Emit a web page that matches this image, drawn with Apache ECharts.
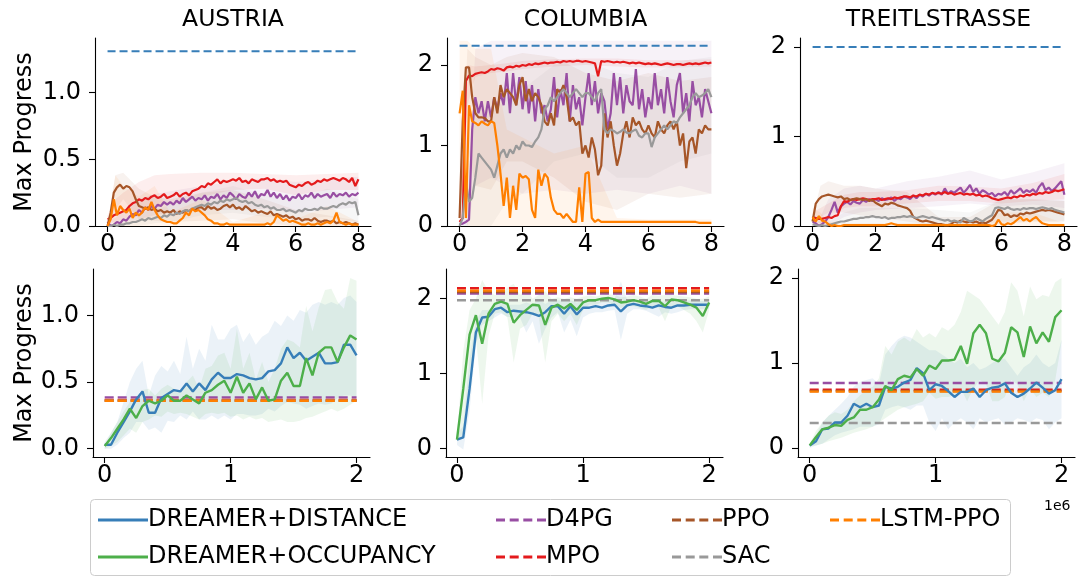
<!DOCTYPE html>
<html>
<head>
<meta charset="utf-8">
<title>Max Progress by track</title>
<script src="https://cdn.jsdelivr.net/npm/echarts@6/dist/echarts.min.js"></script>
<style>
  html, body { margin: 0; padding: 0; background: #fff; }
  #chart { width: 1081px; height: 576px; }
</style>
</head>
<body>
<div id="chart"></div>
<script>
// ---------- data ----------
const trackNames = ['AUSTRIA', 'COLUMBIA', 'TREITLSTRASSE'];
const methodNames = ['DREAMER+DISTANCE', 'DREAMER+OCCUPANCY', 'D4PG', 'MPO', 'PPO', 'SAC', 'LSTM-PPO'];

// model-free training steps (x 1e6), 0..8
const topSteps = [0,0.1,0.2,0.3,0.4,0.5,0.6,0.7,0.8,0.9,1,1.1,1.2,1.3,1.4,1.5,1.6,1.7,1.8,1.9,2,2.1,2.2,2.3,2.4,2.5,2.6,2.7,2.8,2.9,3,3.1,3.2,3.3,3.4,3.5,3.6,3.7,3.8,3.9,4,4.1,4.2,4.3,4.4,4.5,4.6,4.7,4.8,4.9,5,5.1,5.2,5.3,5.4,5.5,5.6,5.7,5.8,5.9,6,6.1,6.2,6.3,6.4,6.5,6.6,6.7,6.8,6.9,7,7.1,7.2,7.3,7.4,7.5,7.6,7.7,7.8,7.9,8];
// spread of the model-free runs is sampled more coarsely
const topBandSteps = [0,0.25,0.5,1,1.5,2,3,4,5,6,7,8];
// dreamer training steps (x 1e6), 0..2
const bottomSteps = [0,0.05,0.1,0.15,0.2,0.25,0.3,0.35,0.4,0.45,0.5,0.55,0.6,0.65,0.7,0.75,0.8,0.85,0.9,0.95,1,1.05,1.1,1.15,1.2,1.25,1.3,1.35,1.4,1.45,1.5,1.55,1.6,1.65,1.7,1.75,1.8,1.85,1.9,1.95,2];

// tick values / labels
const topXTicks = [0, 2, 4, 6, 8];
const bottomXTicks = [0, 1, 2];
const austriaYTicks = [0, 0.5, 1.0];
const austriaYLabels = ['0.0', '0.5', '1.0'];
const wideYTicks = [0, 1, 2];
const wideYLabels = ['0', '1', '2'];

// ---- AUSTRIA, model-free ----
const austriaD4PG = [
0.03,0.00,0.01,0.03,0.02,0.05,0.04,0.07,0.09,0.08,
0.12,0.10,0.14,0.12,0.15,0.13,0.16,0.15,0.18,0.16,
0.18,0.16,0.19,0.17,0.21,0.18,0.20,0.22,0.19,0.21,
0.20,0.23,0.19,0.22,0.21,0.24,0.20,0.23,0.21,0.25,
0.23,0.20,0.24,0.22,0.21,0.25,0.22,0.26,0.21,0.24,
0.23,0.27,0.22,0.25,0.21,0.24,0.20,0.23,0.19,0.22,
0.21,0.24,0.20,0.23,0.22,0.25,0.21,0.24,0.22,0.23,
0.24,0.21,0.25,0.22,0.24,0.23,0.25,0.22,0.24,0.23,
0.25];
const austriaMPO = [
0.05,0.06,0.08,0.09,0.10,0.11,0.12,0.15,0.17,0.18,
0.20,0.19,0.21,0.20,0.22,0.23,0.21,0.22,0.24,0.21,
0.22,0.23,0.25,0.22,0.24,0.25,0.23,0.26,0.27,0.28,
0.30,0.29,0.32,0.31,0.33,0.35,0.32,0.34,0.33,0.34,
0.35,0.34,0.36,0.33,0.34,0.32,0.35,0.34,0.33,0.35,
0.35,0.36,0.34,0.35,0.33,0.34,0.33,0.34,0.31,0.30,
0.29,0.31,0.30,0.32,0.33,0.31,0.32,0.34,0.33,0.35,
0.34,0.35,0.36,0.35,0.34,0.36,0.35,0.33,0.36,0.30,
0.35];
const austriaPPO = [
0.00,0.10,0.25,0.29,0.31,0.28,0.30,0.29,0.26,0.20,
0.15,0.14,0.13,0.14,0.12,0.13,0.11,0.12,0.10,0.11,
0.10,0.12,0.09,0.11,0.10,0.12,0.11,0.13,0.12,0.14,
0.14,0.12,0.15,0.13,0.14,0.12,0.13,0.15,0.16,0.14,
0.16,0.13,0.14,0.12,0.15,0.13,0.11,0.12,0.10,0.11,
0.10,0.09,0.11,0.08,0.09,0.08,0.07,0.08,0.06,0.07,
0.05,0.06,0.04,0.05,0.05,0.04,0.06,0.04,0.03,0.04,
0.04,0.03,0.04,0.02,0.03,0.02,0.03,0.02,0.01,0.02,
0.01];
const austriaSAC = [
0.00,0.00,0.01,0.00,0.01,0.01,0.02,0.02,0.03,0.03,
0.04,0.05,0.04,0.06,0.05,0.06,0.07,0.06,0.08,0.07,
0.09,0.08,0.10,0.09,0.11,0.12,0.11,0.13,0.14,0.15,
0.16,0.15,0.17,0.16,0.18,0.17,0.19,0.18,0.20,0.19,
0.20,0.21,0.19,0.18,0.19,0.17,0.18,0.16,0.15,0.16,
0.14,0.15,0.13,0.14,0.12,0.12,0.13,0.11,0.12,0.11,
0.10,0.12,0.11,0.13,0.12,0.12,0.13,0.12,0.14,0.13,
0.13,0.14,0.15,0.14,0.16,0.17,0.16,0.18,0.17,0.18,
0.08];
const austriaLSTM = [
0.00,0.05,0.20,0.08,0.15,0.12,0.10,0.13,0.06,0.10,
0.08,0.10,0.14,0.12,0.18,0.12,0.08,0.05,0.04,0.03,
0.03,0.02,0.02,0.04,0.06,0.10,0.08,0.13,0.11,0.12,
0.10,0.08,0.05,0.04,0.02,0.02,0.01,0.01,0.02,0.01,
0.01,0.01,0.01,0.01,0.01,0.01,0.01,0.01,0.01,0.01,
0.01,0.02,0.01,0.03,0.08,0.06,0.04,0.05,0.03,0.04,
0.03,0.02,0.01,0.01,0.02,0.01,0.01,0.02,0.01,0.02,
0.03,0.02,0.04,0.10,0.03,0.02,0.01,0.02,0.01,0.01,
0.01];
const austriaBandLo = {
  D4PG: [0,0,0,0.05,0.08,0.10,0.12,0.12,0.13,0.10,0.12,0.14],
  MPO:  [0.02,0.03,0.05,0.10,0.15,0.16,0.22,0.27,0.28,0.23,0.27,0.27],
  PPO:  [0,0.12,0.20,0.05,0.04,0.03,0.04,0.05,0.02,0,0,0],
  SAC:  [0,0,0,0,0.02,0.03,0.08,0.10,0.07,0.05,0.07,0.03],
  LSTM: [0,0,0,0,0,0,0,0,0,0,0,0]
};
const austriaBandHi = {
  D4PG: [0.05,0.06,0.12,0.20,0.24,0.26,0.30,0.33,0.36,0.33,0.35,0.37],
  MPO:  [0.08,0.20,0.25,0.33,0.38,0.39,0.40,0.40,0.39,0.38,0.39,0.40],
  PPO:  [0.02,0.38,0.40,0.28,0.22,0.20,0.25,0.27,0.20,0.12,0.08,0.04],
  SAC:  [0,0.02,0.05,0.10,0.12,0.16,0.25,0.30,0.23,0.20,0.28,0.20],
  LSTM: [0.02,0.38,0.30,0.22,0.30,0.10,0.20,0.03,0.10,0.05,0.15,0.03]
};

// ---- COLUMBIA, model-free ----
const columbiaD4PG = [
0.02,0.03,0.05,0.08,1.20,1.60,1.40,1.55,1.30,1.55,
1.35,1.60,1.45,1.65,1.50,1.90,1.40,1.90,1.50,1.85,
1.45,1.80,1.40,1.75,1.30,1.70,1.40,1.50,1.30,1.45,
1.85,1.35,1.70,1.50,1.90,1.30,1.75,1.45,1.60,1.25,
1.60,1.90,1.50,1.80,1.40,1.65,1.55,1.20,1.40,1.90,
1.50,1.85,1.40,1.75,1.55,1.50,1.95,1.45,1.70,1.35,
1.60,1.45,1.90,1.50,1.70,1.40,1.85,1.55,1.35,1.75,
1.90,1.40,1.65,1.30,1.80,1.50,1.60,1.35,1.70,1.55,
1.40];
const columbiaMPO = [
0.05,0.10,1.80,1.87,1.86,1.89,1.90,1.91,1.90,1.92,
1.95,1.94,1.96,1.95,1.93,1.97,1.98,1.97,1.99,1.98,
2.00,1.99,2.01,2.00,2.02,2.01,2.02,2.03,2.02,2.03,
2.03,2.04,2.03,2.05,2.04,2.05,2.04,2.05,2.05,2.04,
2.05,2.04,2.03,2.02,1.86,2.05,2.04,2.05,2.04,2.03,
2.04,2.03,2.04,2.03,2.02,2.03,2.02,2.03,2.02,2.01,
2.02,2.01,2.02,2.01,2.00,2.01,2.02,2.01,2.00,2.01,
2.01,2.00,2.01,2.02,2.01,2.02,2.01,2.02,2.03,2.02,
2.03];
const columbiaPPO = [
0.10,1.30,1.97,1.97,1.60,1.40,1.35,1.35,1.34,1.30,
1.30,1.60,1.40,1.75,1.60,1.70,1.65,1.60,1.50,1.75,
1.85,1.55,1.70,1.55,1.65,1.60,1.50,1.30,1.25,1.40,
1.25,1.70,1.65,1.75,1.60,1.30,1.35,1.25,1.30,0.90,
1.00,0.85,1.10,0.95,0.63,0.75,1.40,1.10,1.30,1.00,
0.75,0.90,1.15,1.30,1.10,1.35,1.25,1.30,1.20,1.15,
1.25,1.15,1.10,1.30,1.20,1.15,1.25,1.30,1.20,1.30,
1.00,1.15,0.72,1.05,1.10,0.90,1.20,1.15,1.25,1.20,
1.20];
const columbiaSAC = [
0.00,0.10,0.55,0.30,0.35,0.60,0.90,0.85,0.80,0.75,
0.70,0.60,0.75,0.90,0.95,0.85,0.95,0.90,1.00,0.95,
1.05,1.00,1.00,0.98,1.05,1.10,1.20,1.45,1.50,1.60,
1.55,1.60,1.65,1.70,1.65,1.60,1.65,1.70,1.65,1.60,
1.65,1.65,1.60,1.55,1.65,1.70,1.20,1.15,1.20,1.18,
1.15,1.17,1.20,1.16,1.15,1.18,1.20,1.12,1.10,1.15,
1.15,0.98,1.10,1.15,1.20,1.25,1.20,1.25,1.30,1.28,
1.35,1.40,1.45,1.50,1.60,1.65,1.60,1.62,1.65,1.70,
1.60];
const columbiaLSTM = [
1.40,1.68,0.10,1.50,1.30,1.28,1.25,1.30,1.27,1.25,
1.30,1.28,1.00,0.65,0.25,0.60,0.10,0.50,0.20,0.65,
0.60,0.62,0.58,0.20,0.10,0.70,0.50,0.65,0.60,0.35,
0.20,0.15,0.15,0.10,0.15,0.10,0.05,0.05,0.48,0.05,
0.65,0.67,0.10,0.05,0.08,0.05,0.05,0.05,0.05,0.05,
0.05,0.05,0.05,0.05,0.05,0.05,0.05,0.05,0.05,0.05,
0.05,0.05,0.05,0.05,0.05,0.05,0.05,0.05,0.05,0.05,
0.05,0.05,0.05,0.05,0.05,0.05,0.04,0.04,0.04,0.04,
0.04];
const columbiaBandLo = {
  D4PG: [0,0,0.50,0.60,0.50,0.40,0.45,0.40,0.45,0.40,0.50,0.40],
  MPO:  [0.02,1.50,1.85,1.90,1.92,1.95,1.98,2.00,1.98,1.97,1.97,1.98],
  PPO:  [0,1.00,0.50,0.45,0.80,0.80,0.60,0.30,0.20,0.40,0.35,0.40],
  SAC:  [0,0,0,0,0.30,0.40,0.80,0.90,0.60,0.60,0.80,0.90],
  LSTM: [0.50,0,0,0,0,0,0,0,0,0,0,0]
};
const columbiaBandHi = {
  D4PG: [0.05,0.20,2.20,2.30,2.30,2.30,2.30,2.30,2.30,2.30,2.30,2.30],
  MPO:  [0.10,2.00,1.98,2.00,2.02,2.05,2.07,2.08,2.08,2.06,2.06,2.07],
  PPO:  [0.20,2.20,2.10,2.00,2.10,2.15,2.10,1.90,1.80,1.90,1.80,1.85],
  SAC:  [0,0.70,1.50,1.40,1.60,1.70,2.00,2.05,1.90,1.85,2.05,2.10],
  LSTM: [2.30,2.30,2.20,2.20,1.20,1.10,0.90,1.00,0.10,0.08,0.08,0.08]
};

// ---- TREITLSTRASSE, model-free ----
const treitlD4PG = [
0.05,0.03,0.00,0.02,0.05,0.10,0.18,0.27,0.15,0.22,
0.25,0.27,0.24,0.28,0.26,0.25,0.29,0.27,0.30,0.28,
0.30,0.28,0.31,0.29,0.30,0.32,0.28,0.31,0.30,0.33,
0.32,0.30,0.34,0.31,0.35,0.33,0.36,0.34,0.37,0.35,
0.38,0.35,0.42,0.36,0.39,0.37,0.40,0.43,0.37,0.41,
0.46,0.38,0.42,0.36,0.40,0.38,0.35,0.37,0.33,0.36,
0.35,0.38,0.34,0.40,0.36,0.39,0.42,0.37,0.40,0.38,
0.41,0.37,0.44,0.48,0.40,0.43,0.39,0.42,0.46,0.50,
0.35];
const treitlMPO = [
0.10,0.09,0.08,0.08,0.09,0.10,0.09,0.11,0.12,0.22,
0.28,0.27,0.29,0.30,0.29,0.30,0.31,0.30,0.29,0.30,
0.30,0.31,0.29,0.30,0.31,0.30,0.32,0.31,0.32,0.33,
0.33,0.32,0.34,0.33,0.35,0.34,0.36,0.35,0.37,0.36,
0.37,0.36,0.38,0.36,0.37,0.35,0.36,0.37,0.35,0.36,
0.35,0.36,0.34,0.35,0.33,0.34,0.33,0.31,0.30,0.29,
0.30,0.31,0.32,0.31,0.33,0.32,0.34,0.33,0.35,0.34,
0.36,0.35,0.37,0.36,0.38,0.37,0.38,0.40,0.39,0.40,
0.41];
const treitlPPO = [
0.05,0.25,0.30,0.33,0.34,0.35,0.34,0.33,0.32,0.33,
0.30,0.31,0.29,0.30,0.31,0.30,0.29,0.30,0.28,0.29,
0.26,0.24,0.22,0.25,0.24,0.26,0.25,0.23,0.22,0.21,
0.20,0.17,0.10,0.08,0.06,0.05,0.06,0.05,0.04,0.03,
0.02,0.02,0.01,0.01,0.02,0.05,0.04,0.06,0.05,0.04,
0.05,0.04,0.05,0.03,0.04,0.03,0.05,0.07,0.12,0.18,
0.17,0.12,0.13,0.10,0.12,0.11,0.14,0.13,0.15,0.14,
0.15,0.16,0.17,0.18,0.17,0.18,0.17,0.16,0.15,0.14,
0.13];
const treitlSAC = [
0.02,0.01,0.00,0.01,0.00,0.01,0.02,0.03,0.04,0.05,
0.05,0.06,0.07,0.08,0.08,0.09,0.09,0.10,0.10,0.11,
0.10,0.10,0.09,0.10,0.08,0.09,0.09,0.10,0.10,0.11,
0.10,0.11,0.10,0.09,0.10,0.11,0.10,0.09,0.10,0.09,
0.08,0.07,0.06,0.07,0.05,0.06,0.05,0.04,0.09,0.07,
0.05,0.06,0.09,0.07,0.05,0.08,0.10,0.12,0.20,0.21,
0.20,0.19,0.21,0.19,0.18,0.19,0.18,0.20,0.19,0.20,
0.20,0.19,0.20,0.21,0.20,0.19,0.20,0.18,0.17,0.16,
0.15];
const treitlLSTM = [
0.10,0.05,0.11,0.06,0.05,0.02,0.00,0.01,0.00,0.00,
0.01,0.01,0.01,0.01,0.01,0.01,0.01,0.01,0.01,0.01,
0.01,0.01,0.01,0.01,0.02,0.03,0.02,0.01,0.01,0.01,
0.01,0.01,0.01,0.01,0.01,0.01,0.01,0.01,0.01,0.01,
0.01,0.01,0.01,0.01,0.01,0.01,0.01,0.01,0.01,0.01,
0.01,0.01,0.01,0.01,0.01,0.01,0.01,0.00,0.01,0.07,
0.02,0.01,0.03,0.02,0.04,0.07,0.10,0.06,0.08,0.05,
0.08,0.10,0.06,0.03,0.02,0.01,0.01,0.01,0.01,0.01,
0.01];
const treitlBandLo = {
  D4PG: [0,0,0,0.10,0.15,0.18,0.20,0.22,0.25,0.22,0.24,0.20],
  MPO:  [0.05,0.03,0.05,0.20,0.22,0.22,0.25,0.28,0.28,0.25,0.28,0.30],
  PPO:  [0,0.10,0.15,0.15,0.12,0.10,0.05,0,0,0.02,0.05,0.05],
  SAC:  [0,0,0,0,0,0,0,0,0,0.05,0.05,0.05],
  LSTM: [0,0,0,0,0,0,0,0,0,0,0,0]
};
const treitlBandHi = {
  D4PG: [0.10,0.10,0.30,0.42,0.45,0.42,0.50,0.55,0.62,0.52,0.60,0.70],
  MPO:  [0.15,0.20,0.25,0.35,0.38,0.38,0.40,0.45,0.44,0.42,0.48,0.58],
  PPO:  [0.10,0.45,0.50,0.45,0.45,0.42,0.38,0.10,0.10,0.30,0.30,0.28],
  SAC:  [0.05,0.05,0.05,0.15,0.20,0.20,0.20,0.18,0.15,0.30,0.30,0.28],
  LSTM: [0.20,0.15,0.05,0.03,0.03,0.03,0.03,0.03,0.03,0.15,0.15,0.03]
};

// best dreamer level, shown as a reference over the model-free runs
const dreamerLevels = [1.31, 2.24, 2.00];

// ---- dreamer runs ----
const austriaDistance = [0.03,0.03,0.12,0.20,0.28,0.37,0.43,0.27,0.27,0.38,0.41,0.44,0.43,0.49,0.43,0.49,0.44,0.52,0.57,0.53,0.53,0.56,0.55,0.53,0.52,0.53,0.58,0.59,0.64,0.76,0.68,0.72,0.66,0.69,0.72,0.64,0.64,0.65,0.78,0.78,0.70];
const austriaDistanceLo = [0.00,0.00,0.03,0.08,0.12,0.20,0.20,0.14,0.16,0.12,0.21,0.20,0.25,0.22,0.28,0.22,0.22,0.25,0.22,0.25,0.22,0.26,0.26,0.25,0.25,0.26,0.30,0.28,0.32,0.35,0.34,0.33,0.30,0.32,0.34,0.33,0.34,0.38,0.40,0.40,0.38];
const austriaDistanceHi = [0.05,0.12,0.20,0.35,0.50,0.60,0.66,0.40,0.55,0.62,0.58,0.66,0.56,0.84,0.60,0.75,0.66,0.93,0.82,0.82,0.90,0.93,0.80,0.87,0.78,0.84,0.87,0.96,0.92,1.00,0.96,1.04,1.02,1.08,1.10,1.08,1.10,1.08,1.13,1.15,1.10];
const austriaOccupancy = [0.02,0.08,0.15,0.22,0.30,0.23,0.32,0.36,0.34,0.36,0.40,0.36,0.36,0.40,0.37,0.34,0.42,0.44,0.48,0.51,0.42,0.54,0.42,0.49,0.37,0.46,0.36,0.37,0.51,0.57,0.47,0.47,0.68,0.55,0.72,0.76,0.76,0.65,0.76,0.85,0.82];
const austriaOccupancyLo = [0.00,0.02,0.05,0.10,0.15,0.12,0.20,0.22,0.25,0.24,0.28,0.26,0.27,0.26,0.24,0.22,0.26,0.27,0.26,0.27,0.24,0.25,0.22,0.24,0.22,0.23,0.20,0.21,0.22,0.20,0.20,0.21,0.23,0.24,0.26,0.28,0.30,0.28,0.30,0.33,0.36];
const austriaOccupancyHi = [0.03,0.12,0.20,0.28,0.35,0.38,0.44,0.45,0.40,0.45,0.48,0.45,0.42,0.50,0.55,0.45,0.60,0.62,0.70,0.72,0.60,0.90,0.60,0.72,0.52,0.65,0.50,0.60,0.75,0.82,0.80,0.76,1.07,0.88,1.06,1.19,1.20,1.10,1.05,1.28,1.26];

const columbiaDistance = [0.12,0.15,0.80,1.55,1.75,1.76,1.86,1.88,1.82,1.84,1.83,1.82,1.80,1.77,1.82,1.90,1.90,1.80,1.90,1.79,1.88,1.88,1.90,1.88,1.91,1.92,1.83,1.91,1.93,1.91,1.90,1.88,1.91,1.89,1.88,1.91,1.91,1.92,1.92,1.92,1.92];
const columbiaDistanceLo = [0.05,-0.01,0.50,1.40,1.65,1.70,1.75,1.80,1.76,1.75,1.75,1.55,1.70,1.40,1.60,1.75,1.82,1.55,1.72,1.50,1.75,1.80,1.82,1.82,1.84,1.85,1.45,1.80,1.86,1.86,1.84,1.80,1.76,1.82,1.80,1.82,1.85,1.86,1.86,1.86,1.87];
const columbiaDistanceHi = [0.20,0.30,1.20,1.70,1.85,1.85,1.93,1.95,1.92,1.92,1.92,1.95,1.92,2.00,1.93,1.98,1.98,1.97,1.98,1.95,1.97,1.96,1.97,1.96,1.98,2.00,2.23,1.98,1.98,1.97,1.96,1.96,1.97,1.96,1.95,1.97,1.97,1.98,1.97,1.97,1.97];
const columbiaOccupancy = [0.12,0.80,1.52,1.78,1.40,1.80,1.93,1.96,1.93,1.68,1.78,1.85,1.92,1.91,1.65,1.88,1.92,1.87,1.93,1.85,1.95,1.98,1.98,2.00,2.01,1.99,1.95,1.96,1.98,1.96,1.93,1.97,1.97,1.90,1.99,1.98,1.95,1.92,1.88,1.77,1.95];
const columbiaOccupancyLo = [0.10,0.20,1.00,1.50,0.60,1.50,1.80,1.82,1.75,1.15,1.60,1.65,1.80,1.75,1.15,1.70,1.80,1.70,1.80,1.65,1.85,1.92,1.92,1.95,1.95,1.90,1.88,1.90,1.90,1.88,1.85,1.90,1.88,1.70,1.90,1.90,1.85,1.80,1.70,1.55,1.85];
const columbiaOccupancyHi = [0.15,1.30,1.85,2.00,2.25,2.10,2.05,2.05,2.15,2.20,2.05,2.12,2.00,2.05,2.10,2.00,2.02,2.00,2.02,2.00,2.03,2.04,2.03,2.05,2.06,2.05,2.02,2.03,2.05,2.03,2.00,2.05,2.04,2.05,2.05,2.04,2.03,2.02,2.00,2.00,2.03];

const treitlDistance = [0.03,0.08,0.22,0.23,0.30,0.30,0.38,0.52,0.48,0.52,0.48,0.50,0.72,0.70,0.72,0.77,0.80,0.94,0.88,0.68,0.75,0.73,0.67,0.60,0.66,0.66,0.70,0.60,0.68,0.71,0.72,0.76,0.65,0.60,0.64,0.70,0.77,0.71,0.64,0.68,0.81];
const treitlDistanceLo = [0.00,0.03,0.05,0.10,0.15,0.18,0.20,0.22,0.25,0.25,0.25,0.28,0.45,0.48,0.50,0.48,0.45,0.50,0.50,0.30,0.20,0.35,0.22,0.30,0.35,0.30,0.22,0.35,0.30,0.33,0.35,0.27,0.30,0.35,0.33,0.30,0.35,0.33,0.22,0.30,0.35];
const treitlDistanceHi = [0.05,0.15,0.30,0.38,0.45,0.52,0.60,0.72,0.78,0.80,0.82,0.75,1.10,1.20,1.28,1.32,1.30,1.25,1.20,1.15,1.15,1.10,1.05,1.00,1.05,0.95,1.00,0.92,0.95,1.00,1.05,1.05,0.95,0.85,0.95,1.00,1.10,1.00,0.95,1.00,1.27];
const treitlOccupancy = [0.03,0.13,0.22,0.24,0.27,0.26,0.33,0.36,0.45,0.45,0.48,0.57,0.73,0.68,0.81,0.85,0.83,0.93,0.85,0.97,0.93,1.03,1.03,1.04,1.20,0.99,1.35,1.45,1.35,1.05,1.02,1.12,1.42,1.36,1.07,1.43,1.23,1.36,1.25,1.54,1.62];
const treitlOccupancyLo = [0.02,0.03,0.05,0.08,0.10,0.12,0.15,0.18,0.20,0.22,0.25,0.30,0.35,0.40,0.45,0.48,0.50,0.52,0.55,0.65,0.58,0.60,0.60,0.62,0.70,0.55,0.70,0.80,0.75,0.55,0.55,0.60,0.80,0.75,0.55,0.70,0.60,0.65,0.60,0.80,1.25];
const treitlOccupancyHi = [0.05,0.20,0.30,0.38,0.42,0.40,0.45,0.55,0.62,0.68,0.72,0.82,1.20,1.10,1.25,1.30,1.25,1.40,1.30,1.35,1.30,1.42,1.38,1.45,1.60,1.85,1.80,1.75,1.65,1.55,1.45,1.60,1.95,1.85,1.55,1.90,1.75,1.80,1.78,1.95,2.00];

// final model-free levels drawn over the dreamer runs: D4PG, MPO, PPO, SAC, LSTM-PPO
const austriaBaselineLevels  = [0.385, 0.365, 0.36, 0.36, 0.36];
const columbiaBaselineLevels = [2.07, 2.14, 2.09, 1.98, 2.107];
const treitlBaselineLevels   = [0.765, 0.686, 0.67, 0.294, 0.663];

// ---------- styling & assembly ----------
const FONT = 'DejaVu Sans';
const palette = {
  'DREAMER+DISTANCE': '#377eb8',
  'DREAMER+OCCUPANCY': '#4daf4a',
  'D4PG': '#984ea3',
  'MPO': '#e41a1c',
  'PPO': '#a65628',
  'SAC': '#999999',
  'LSTM-PPO': '#ff7f00'
};
const baselineOrder = ['D4PG', 'MPO', 'PPO', 'SAC', 'LSTM-PPO'];
const bandKey = { 'D4PG': 'D4PG', 'MPO': 'MPO', 'PPO': 'PPO', 'SAC': 'SAC', 'LSTM-PPO': 'LSTM' };

const grids = [
  { left: 95,  top: 38,  width: 276, height: 188 },
  { left: 447, top: 38,  width: 277, height: 188 },
  { left: 800, top: 38,  width: 277, height: 188 },
  { left: 93,  top: 269, width: 277, height: 188 },
  { left: 446, top: 269, width: 277, height: 188 },
  { left: 798, top: 269, width: 277, height: 188 }
];
const xRanges = [[-0.4, 8.4], [-0.4, 8.4], [-0.4, 8.4], [-0.093, 2.107], [-0.087, 2.11], [-0.093, 2.107]];
const yRanges = [[0, 1.41], [0, 2.335], [0, 2.1], [-0.062, 1.348], [-0.111, 2.396], [-0.106, 2.106]];
const yTickSets = [
  [austriaYTicks, austriaYLabels], [wideYTicks, wideYLabels], [wideYTicks, wideYLabels],
  [austriaYTicks, austriaYLabels], [wideYTicks, wideYLabels], [wideYTicks, wideYLabels]
];

const axisLineStyle = { color: '#000', width: 1.1 };
const tickFont = { fontFamily: FONT, fontSize: 24, color: '#000' };

const xAxes = grids.map((g, i) => {
  const ticks = i < 3 ? topXTicks : bottomXTicks;
  return {
    type: 'value', gridIndex: i, min: xRanges[i][0], max: xRanges[i][1],
    axisLine: { show: true, onZero: false, lineStyle: axisLineStyle },
    axisTick: { show: true, length: 6, lineStyle: axisLineStyle, customValues: ticks },
    axisLabel: Object.assign({ show: true, margin: 7, customValues: ticks,
      formatter: v => String(v) }, tickFont),
    splitLine: { show: false }
  };
});
const yAxes = grids.map((g, i) => {
  const [ticks, labels] = yTickSets[i];
  const ax = {
    type: 'value', gridIndex: i, min: yRanges[i][0], max: yRanges[i][1],
    axisLine: { show: true, onZero: false, lineStyle: axisLineStyle },
    axisTick: { show: true, length: 6, lineStyle: axisLineStyle, customValues: ticks },
    axisLabel: Object.assign({ show: true, margin: 14, customValues: ticks,
      formatter: v => { const k = ticks.findIndex(t => Math.abs(t - v) < 1e-9); return k >= 0 ? labels[k] : ''; } }, tickFont),
    splitLine: { show: false }
  };
  if (i === 0 || i === 3) {
    ax.name = 'Max Progress';
    ax.nameLocation = 'middle';
    ax.nameRotate = 90;
    ax.nameGap = i === 0 ? 58 : 56;
    ax.nameTextStyle = { fontFamily: FONT, fontSize: 24, color: '#000' };
  }
  return ax;
});

const series = [];

function bandSeries(gridIdx, color, opacity, xs, lo, hi) {
  return {
    type: 'custom', xAxisIndex: gridIdx, yAxisIndex: gridIdx,
    silent: true, clip: true, z: 1, animation: false,
    itemStyle: { color: color },
    data: xs.map((x, i) => [x, lo[i], hi[i]]),
    encode: { x: 0, y: [1, 2] },
    renderItem: function (params, api) {
      if (params.dataIndex !== 0) return null;
      const pts = [];
      for (let i = 0; i < xs.length; i++) pts.push(api.coord([xs[i], hi[i]]));
      for (let i = xs.length - 1; i >= 0; i--) pts.push(api.coord([xs[i], lo[i]]));
      return { type: 'polygon', shape: { points: pts }, style: { fill: color, opacity: opacity } };
    }
  };
}
function lineSeries(gridIdx, name, xs, ys, width, z) {
  return {
    type: 'line', name: name, xAxisIndex: gridIdx, yAxisIndex: gridIdx,
    data: xs.map((x, i) => [x, ys[i]]),
    symbol: 'none', showSymbol: false, silent: true, clip: true, z: z || 2,
    emphasis: { disabled: true },
    lineStyle: { color: palette[name], width: width || 2 },
    itemStyle: { color: palette[name] }
  };
}
function levelSeries(gridIdx, name, x0, x1, level, width, dash, z) {
  return {
    type: 'line', name: name, xAxisIndex: gridIdx, yAxisIndex: gridIdx,
    data: [[x0, level], [x1, level]],
    symbol: 'none', showSymbol: false, silent: true, clip: true, z: z || 3,
    emphasis: { disabled: true },
    lineStyle: { color: palette[name], width: width, type: dash },
    itemStyle: { color: palette[name] }
  };
}

// top row: model-free runs with their spread
const topRuns = [
  { D4PG: austriaD4PG, MPO: austriaMPO, PPO: austriaPPO, SAC: austriaSAC, 'LSTM-PPO': austriaLSTM, lo: austriaBandLo, hi: austriaBandHi },
  { D4PG: columbiaD4PG, MPO: columbiaMPO, PPO: columbiaPPO, SAC: columbiaSAC, 'LSTM-PPO': columbiaLSTM, lo: columbiaBandLo, hi: columbiaBandHi },
  { D4PG: treitlD4PG, MPO: treitlMPO, PPO: treitlPPO, SAC: treitlSAC, 'LSTM-PPO': treitlLSTM, lo: treitlBandLo, hi: treitlBandHi }
];
topRuns.forEach((run, g) => {
  baselineOrder.forEach(name => {
    const k = bandKey[name];
    series.push(bandSeries(g, palette[name], 0.075, topBandSteps, run.lo[k], run.hi[k]));
  });
});
topRuns.forEach((run, g) => {
  baselineOrder.forEach(name => series.push(lineSeries(g, name, topSteps, run[name], 2.2, 2)));
  series.push(levelSeries(g, 'DREAMER+DISTANCE', 0, 8, dreamerLevels[g], 2, [8, 4], 3));
});

// bottom row: dreamer runs with their spread, plus final model-free levels
const bottomRuns = [
  { d: austriaDistance, dlo: austriaDistanceLo, dhi: austriaDistanceHi, o: austriaOccupancy, olo: austriaOccupancyLo, ohi: austriaOccupancyHi, levels: austriaBaselineLevels },
  { d: columbiaDistance, dlo: columbiaDistanceLo, dhi: columbiaDistanceHi, o: columbiaOccupancy, olo: columbiaOccupancyLo, ohi: columbiaOccupancyHi, levels: columbiaBaselineLevels },
  { d: treitlDistance, dlo: treitlDistanceLo, dhi: treitlDistanceHi, o: treitlOccupancy, olo: treitlOccupancyLo, ohi: treitlOccupancyHi, levels: treitlBaselineLevels }
];
bottomRuns.forEach((run, k) => {
  const g = k + 3;
  series.push(bandSeries(g, palette['DREAMER+DISTANCE'], 0.1, bottomSteps, run.dlo, run.dhi));
  series.push(bandSeries(g, palette['DREAMER+OCCUPANCY'], 0.1, bottomSteps, run.olo, run.ohi));
  series.push(lineSeries(g, 'DREAMER+DISTANCE', bottomSteps, run.d, 2.4, 4));
  series.push(lineSeries(g, 'DREAMER+OCCUPANCY', bottomSteps, run.o, 2.4, 4));
  baselineOrder.forEach((name, j) => series.push(levelSeries(g, name, 0, 2, run.levels[j], 2.4, [9, 4], 3)));
});

// legend: four columns inside one framed box
const dashIcon = 'path://M0,0h9v3h-9zM13.7,0h9v3h-9zM27.3,0h9v3h-9zM41,0h9v3h-9z';
const solidIcon = 'path://M0,0h50v3h-50z';
function legendColumn(left, names) {
  return {
    orient: 'vertical', left: left, top: 508, padding: 0,
    itemWidth: 50, itemHeight: 3, itemGap: 13,
    selectedMode: false, z: 20,
    textStyle: { fontFamily: FONT, fontSize: 24, color: '#000', padding: [0, 0, 0, -5] },
    itemStyle: { borderWidth: 0 },
    data: names.map(n => ({ name: n, icon: n.indexOf('DREAMER') === 0 ? solidIcon : dashIcon }))
  };
}
const legends = [
  legendColumn(98, [methodNames[0], methodNames[1]]),
  legendColumn(496, [methodNames[2], methodNames[3]]),
  legendColumn(672, [methodNames[4], methodNames[5]]),
  legendColumn(830, [methodNames[6]])
];

const titles = trackNames.map((t, i) => ({
  text: t, left: grids[i].left + grids[i].width / 2, top: 8, textAlign: 'center', padding: 0,
  textStyle: { fontFamily: FONT, fontSize: 23.5, fontWeight: 'normal', color: '#000' }
}));

const chart = echarts.init(document.getElementById('chart'), null, { renderer: 'canvas' });
chart.setOption({
  animation: false,
  backgroundColor: '#fff',
  title: titles,
  grid: grids.map(g => Object.assign({ containLabel: false, outerBoundsMode: 'none' }, g)),
  xAxis: xAxes,
  yAxis: yAxes,
  legend: legends,
  tooltip: { show: false },
  graphic: [
    { type: 'rect', z: 10, shape: { x: 90.5, y: 499.5, width: 920, height: 76, r: 4 },
      style: { fill: 'rgba(255,255,255,0.9)', stroke: '#cccccc', lineWidth: 1 } },
    { type: 'text', z: 10, left: 1044, top: 499,
      style: { text: '1e6', font: '14px "DejaVu Sans"', fill: '#000' } }
  ],
  series: series
});
</script>
</body>
</html>
